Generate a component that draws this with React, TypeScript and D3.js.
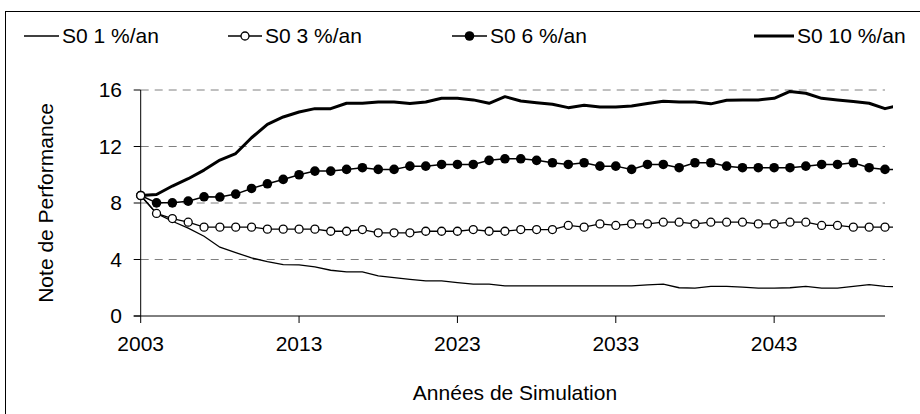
import React from "react";
import * as d3 from "d3";

const years: number[] = d3.range(2003, 2052);
const tickYears = [2003, 2013, 2023, 2033, 2043];
const yTicks = [0, 4, 8, 12, 16];

const s1 = [8.53, 7.26, 6.71, 6.22, 5.65, 4.87, 4.49, 4.11, 3.85, 3.64, 3.62, 3.48, 3.24, 3.12, 3.12, 2.84, 2.72, 2.6, 2.48, 2.48, 2.36, 2.25, 2.25, 2.13, 2.13, 2.13, 2.13, 2.13, 2.13, 2.13, 2.13, 2.13, 2.2, 2.25, 2.0, 1.98, 2.1, 2.1, 2.05, 1.98, 1.98, 2.0, 2.1, 1.98, 1.98, 2.1, 2.22, 2.1, 2.05];
const s3 = [8.53, 7.26, 6.9, 6.64, 6.29, 6.29, 6.29, 6.29, 6.15, 6.15, 6.15, 6.15, 6.0, 6.0, 6.12, 5.89, 5.89, 5.89, 6.0, 6.0, 6.0, 6.12, 6.0, 6.0, 6.12, 6.12, 6.12, 6.41, 6.29, 6.52, 6.41, 6.52, 6.52, 6.64, 6.64, 6.52, 6.64, 6.64, 6.64, 6.52, 6.52, 6.64, 6.64, 6.41, 6.41, 6.29, 6.29, 6.29, 6.29];
const s6 = [8.53, 8.01, 8.01, 8.13, 8.44, 8.42, 8.63, 9.03, 9.36, 9.67, 10.0, 10.26, 10.26, 10.38, 10.5, 10.38, 10.38, 10.61, 10.61, 10.73, 10.73, 10.73, 11.02, 11.13, 11.13, 11.02, 10.85, 10.73, 10.85, 10.61, 10.61, 10.38, 10.73, 10.73, 10.5, 10.85, 10.85, 10.61, 10.5, 10.5, 10.5, 10.5, 10.61, 10.73, 10.73, 10.85, 10.5, 10.38, 10.35];
const s10 = [8.53, 8.6, 9.2, 9.72, 10.33, 11.04, 11.5, 12.62, 13.57, 14.09, 14.44, 14.68, 14.68, 15.06, 15.06, 15.15, 15.15, 15.04, 15.15, 15.41, 15.41, 15.3, 15.06, 15.53, 15.22, 15.1, 14.99, 14.75, 14.92, 14.8, 14.8, 14.87, 15.05, 15.2, 15.15, 15.15, 15.02, 15.28, 15.3, 15.3, 15.41, 15.9, 15.77, 15.41, 15.3, 15.18, 15.06, 14.68, 14.95];

const seriesNames = ["S0 1 %/an", "S0 3 %/an", "S0 6 %/an", "S0 10 %/an"];
const lastYear = 2050;

const FONT = "Liberation Sans, Arial, sans-serif";
const FS = 21;

export default function App() {
  const x = d3.scaleLinear().domain([2003, lastYear]).range([140.7, 885]);
  const y = d3.scaleLinear().domain([0, 16]).range([316, 90]);
  const line = (vals: number[]) =>
    d3.line<number>().x((_, i) => x(years[i])).y((v) => y(v))(vals) || "";
  const shown = (vals: number[]) => vals.filter((_, i) => years[i] <= lastYear);

  const legendX = [24, 228, 452, 754];
  const legendLen = [35, 34, 35, 40];
  const ly = 36;

  return (
    <>
      <style>{`body{margin:0}`}</style>
      <svg width={920} height={414} style={{ display: "block", fontFamily: FONT }}>
        <defs>
          <clipPath id="plotclip">
            <rect x={0} y={0} width={x(lastYear + 0.5)} height={414} />
          </clipPath>
        </defs>
        <rect x={0} y={0} width={920} height={414} fill="#fff" />
        <rect x={5.5} y={11.5} width={930} height={420} fill="none" stroke="#000" strokeWidth={1} />

        {/* gridlines */}
        {yTicks.filter((t) => t > 0).map((t) => (
          <line key={t} x1={x(2003)} x2={x(lastYear)} y1={y(t)} y2={y(t)} stroke="#808080" strokeWidth={1} strokeDasharray="8,6" />
        ))}

        {/* axes */}
        <line x1={x(2003)} x2={x(2003)} y1={y(16)} y2={y(0)} stroke="#000" />
        <line x1={x(2003) - 7} x2={x(lastYear)} y1={y(0)} y2={y(0)} stroke="#000" />
        {yTicks.map((t) => (
          <g key={t}>
            <line x1={x(2003) - 7} x2={x(2003)} y1={y(t)} y2={y(t)} stroke="#000" />
            <text x={122} y={y(t)} dy="0.35em" textAnchor="end" fontSize={FS}>{t}</text>
          </g>
        ))}
        {tickYears.map((t) => (
          <g key={t}>
            <line x1={x(t)} x2={x(t)} y1={y(0)} y2={y(0) + 7} stroke="#000" />
            <text x={x(t)} y={351} textAnchor="middle" fontSize={FS}>{t}</text>
          </g>
        ))}
        <text x={515} y={400} textAnchor="middle" fontSize={FS}>Années de Simulation</text>
        <text transform={`translate(53,203) rotate(-90)`} textAnchor="middle" fontSize={FS}>Note de Performance</text>

        {/* series */}
        <g clipPath="url(#plotclip)">
          <path d={line(s1)} fill="none" stroke="#000" strokeWidth={1.3} />
          <path d={line(s10)} fill="none" stroke="#000" strokeWidth={3} strokeLinejoin="round" />
          <path d={line(s6)} fill="none" stroke="#000" strokeWidth={1.5} />
          <path d={line(s3)} fill="none" stroke="#000" strokeWidth={1.3} />
        </g>
        {shown(s6).map((v, i) => (
          <circle key={i} cx={x(years[i])} cy={y(v)} r={4.8} fill="#000" />
        ))}
        {shown(s3).map((v, i) => (
          <circle key={i} cx={x(years[i])} cy={y(v)} r={4} fill="#fff" stroke="#000" strokeWidth={1.3} />
        ))}

        {/* legend */}
        {seriesNames.map((n, k) => {
          const x0 = legendX[k];
          const len = legendLen[k];
          const cx = x0 + len / 2;
          const sw = k === 3 ? 3 : k === 2 ? 1.5 : 1.3;
          return (
            <g key={n}>
              <line x1={x0} x2={x0 + len} y1={ly} y2={ly} stroke="#000" strokeWidth={sw} />
              {k === 1 && <circle cx={cx} cy={ly} r={4} fill="#fff" stroke="#000" strokeWidth={1.3} />}
              {k === 2 && <circle cx={cx} cy={ly} r={4.8} fill="#000" />}
              <text x={x0 + len + 3} y={ly} dy="0.35em" fontSize={FS}>{n}</text>
            </g>
          );
        })}
      </svg>
    </>
  );
}
